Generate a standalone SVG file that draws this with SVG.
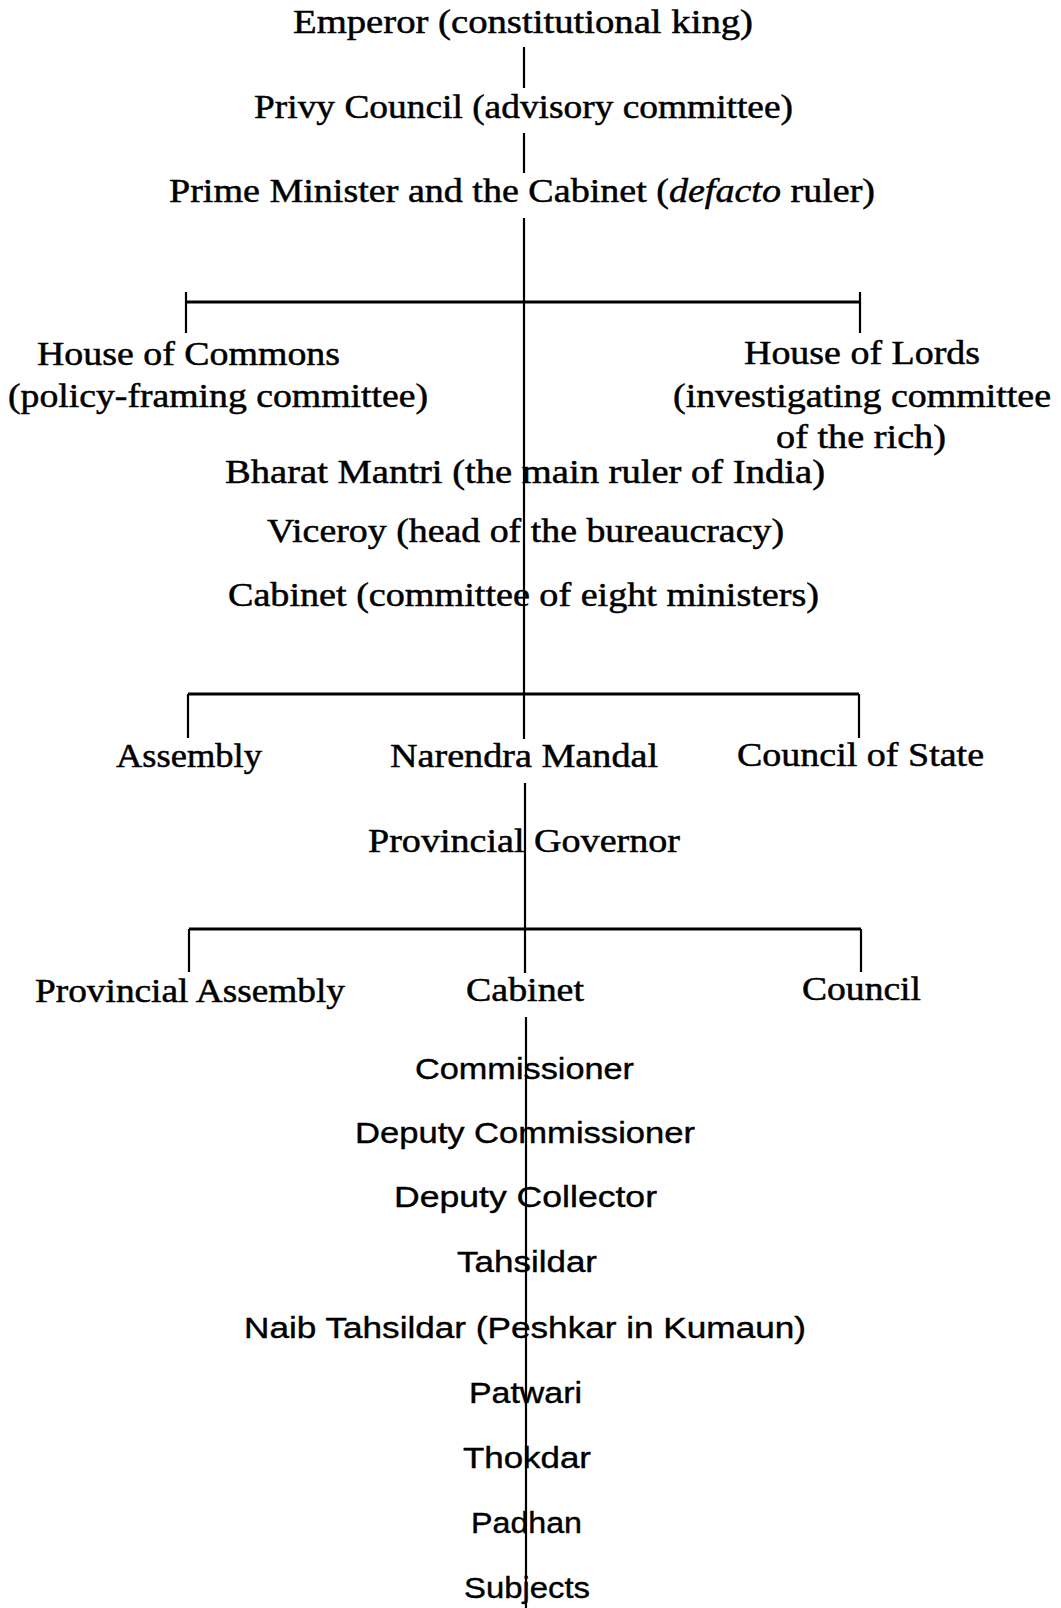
<svg xmlns="http://www.w3.org/2000/svg" width="1061" height="1608" viewBox="0 0 1061 1608">
<style>
.s { font-family: "Liberation Serif", "Times New Roman", serif; font-size: 34px; fill: #000; stroke: #000; stroke-width: 0.5; }
.a { font-family: "Liberation Sans", Arial, sans-serif; font-size: 30px; fill: #000; stroke: #000; stroke-width: 0.4; }
.ln { stroke: #000; stroke-width: 2.2; fill: none; }
.br { stroke: #000; stroke-width: 3; fill: none; }
</style>
<rect x="0" y="0" width="1061" height="1608" fill="#fff"/>
<g id="connectors">
  <line class="ln" x1="524" y1="47" x2="524" y2="88"/>
  <line class="ln" x1="524" y1="133" x2="524" y2="173"/>
  <line class="ln" x1="524" y1="218" x2="524" y2="739"/>
  <line class="br" x1="186" y1="302" x2="860" y2="302"/>
  <line class="ln" x1="186" y1="292" x2="186" y2="333"/>
  <line class="ln" x1="860" y1="292" x2="860" y2="333"/>
  <line class="br" x1="188" y1="694" x2="859" y2="694"/>
  <line class="ln" x1="188" y1="694" x2="188" y2="738"/>
  <line class="ln" x1="859" y1="694" x2="859" y2="738"/>
  <line class="ln" x1="525" y1="783" x2="525" y2="973"/>
  <line class="br" x1="189" y1="929" x2="861" y2="929"/>
  <line class="ln" x1="189" y1="929" x2="189" y2="972"/>
  <line class="ln" x1="861" y1="929" x2="861" y2="972"/>
  <line class="ln" x1="526" y1="1017" x2="526" y2="1608"/>
</g>
<g id="emperor"><text class="s" x="293" y="33" textLength="460" lengthAdjust="spacingAndGlyphs">Emperor (constitutional king)</text></g>
<g id="privy-council"><text class="s" x="254" y="118" textLength="539" lengthAdjust="spacingAndGlyphs">Privy Council (advisory committee)</text></g>
<g id="prime-minister"><text class="s" x="169" y="202" textLength="706" lengthAdjust="spacingAndGlyphs">Prime Minister and the Cabinet (<tspan font-style="italic">defacto</tspan> ruler)</text></g>
<g id="house-of-commons">
  <text class="s" x="37" y="365" textLength="303" lengthAdjust="spacingAndGlyphs">House of Commons</text>
  <text class="s" x="8" y="407" textLength="420" lengthAdjust="spacingAndGlyphs">(policy-framing committee)</text>
</g>
<g id="house-of-lords">
  <text class="s" x="744" y="364" textLength="236" lengthAdjust="spacingAndGlyphs">House of Lords</text>
  <text class="s" x="673" y="407" textLength="378" lengthAdjust="spacingAndGlyphs">(investigating committee</text>
  <text class="s" x="776" y="448" textLength="170" lengthAdjust="spacingAndGlyphs">of the rich)</text>
</g>
<g id="bharat-mantri"><text class="s" x="225" y="483" textLength="600" lengthAdjust="spacingAndGlyphs">Bharat Mantri (the main ruler of India)</text></g>
<g id="viceroy"><text class="s" x="267" y="542" textLength="517" lengthAdjust="spacingAndGlyphs">Viceroy (head of the bureaucracy)</text></g>
<g id="cabinet-india"><text class="s" x="228" y="606" textLength="591" lengthAdjust="spacingAndGlyphs">Cabinet (committee of eight ministers)</text></g>
<g id="assembly"><text class="s" x="116" y="767" textLength="146" lengthAdjust="spacingAndGlyphs">Assembly</text></g>
<g id="narendra-mandal"><text class="s" x="390" y="767" textLength="268" lengthAdjust="spacingAndGlyphs">Narendra Mandal</text></g>
<g id="council-of-state"><text class="s" x="737" y="766" textLength="247" lengthAdjust="spacingAndGlyphs">Council of State</text></g>
<g id="provincial-governor"><text class="s" x="368" y="852" textLength="312" lengthAdjust="spacingAndGlyphs">Provincial Governor</text></g>
<g id="provincial-assembly"><text class="s" x="35" y="1002" textLength="310" lengthAdjust="spacingAndGlyphs">Provincial Assembly</text></g>
<g id="cabinet-provincial"><text class="s" x="466" y="1001" textLength="118" lengthAdjust="spacingAndGlyphs">Cabinet</text></g>
<g id="council"><text class="s" x="802" y="1000" textLength="119" lengthAdjust="spacingAndGlyphs">Council</text></g>
<g id="commissioner"><text class="a" x="415" y="1079" textLength="219" lengthAdjust="spacingAndGlyphs">Commissioner</text></g>
<g id="deputy-commissioner"><text class="a" x="355" y="1143" textLength="340" lengthAdjust="spacingAndGlyphs">Deputy Commissioner</text></g>
<g id="deputy-collector"><text class="a" x="394" y="1207" textLength="263" lengthAdjust="spacingAndGlyphs">Deputy Collector</text></g>
<g id="tahsildar"><text class="a" x="457" y="1272" textLength="140" lengthAdjust="spacingAndGlyphs">Tahsildar</text></g>
<g id="naib-tahsildar"><text class="a" x="244" y="1338" textLength="562" lengthAdjust="spacingAndGlyphs">Naib Tahsildar (Peshkar in Kumaun)</text></g>
<g id="patwari"><text class="a" x="469" y="1403" textLength="113" lengthAdjust="spacingAndGlyphs">Patwari</text></g>
<g id="thokdar"><text class="a" x="463" y="1468" textLength="128" lengthAdjust="spacingAndGlyphs">Thokdar</text></g>
<g id="padhan"><text class="a" x="471" y="1533" textLength="111" lengthAdjust="spacingAndGlyphs">Padhan</text></g>
<g id="subjects"><text class="a" x="464" y="1598" textLength="126" lengthAdjust="spacingAndGlyphs">Subjects</text></g>
</svg>
